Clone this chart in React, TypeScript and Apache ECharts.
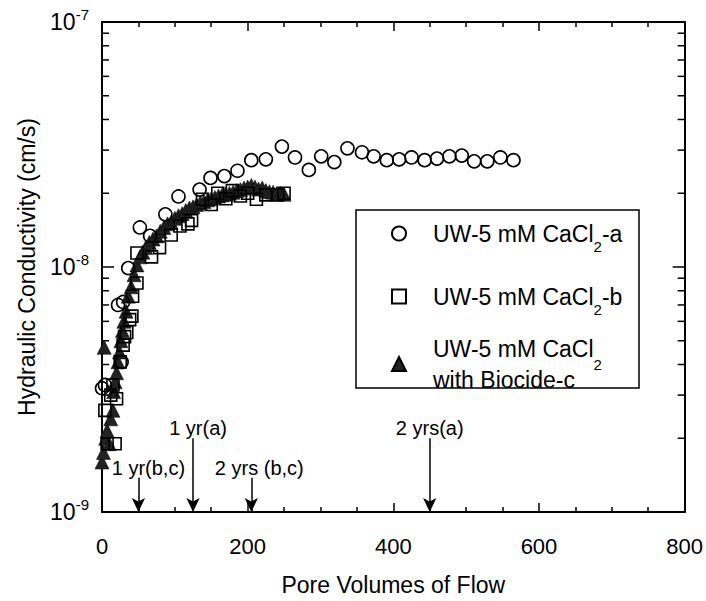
import React, { useEffect, useRef } from 'react';
import * as echarts from 'echarts';

const FONT = '"Liberation Sans", Arial, Helvetica, sans-serif';

const seriesNames = ['UW-5 mM CaCl2-a', 'UW-5 mM CaCl2-b', 'UW-5 mM CaCl2 with Biocide-c'];

// Series a (open circles): [pore volumes, hydraulic conductivity cm/s]
const seriesA: [number, number][] = [
  [0, 3.2e-9], [4, 3.3e-9], [22, 7.0e-9], [27, 4.1e-9], [29, 7.2e-9], [36, 9.9e-9],
  [52, 1.45e-8], [66, 1.34e-8], [87, 1.64e-8], [105, 1.94e-8], [134, 2.07e-8], [149, 2.31e-8],
  [168, 2.35e-8], [186, 2.47e-8], [205, 2.73e-8], [225, 2.75e-8], [247, 3.1e-8], [265, 2.8e-8],
  [284, 2.49e-8], [301, 2.83e-8], [319, 2.68e-8], [337, 3.05e-8], [357, 2.94e-8], [373, 2.83e-8],
  [391, 2.73e-8], [408, 2.75e-8], [425, 2.8e-8], [443, 2.73e-8], [460, 2.77e-8], [477, 2.83e-8],
  [494, 2.85e-8], [511, 2.7e-8], [529, 2.7e-8], [547, 2.8e-8], [565, 2.73e-8],
];

// Series b (open squares)
const seriesB: [number, number][] = [
  [4, 2.6e-9], [7, 1.9e-9], [12, 3.0e-9], [15, 3.3e-9], [18, 1.9e-9], [20, 2.9e-9],
  [25, 4.1e-9], [29, 4.8e-9], [31, 5.2e-9], [34, 5.4e-9], [38, 6.1e-9], [41, 6.3e-9],
  [42, 7.6e-9], [48, 8.6e-9], [48, 1.14e-8], [68, 1.1e-8], [79, 1.2e-8], [95, 1.35e-8],
  [107, 1.47e-8], [118, 1.5e-8], [123, 1.55e-8], [138, 1.89e-8], [150, 1.8e-8], [159, 2.0e-8],
  [170, 1.9e-8], [179, 2.05e-8], [190, 1.95e-8], [200, 2.0e-8], [212, 1.89e-8], [225, 1.97e-8],
  [241, 1.97e-8], [250, 2.0e-8],
];

// Series c (filled triangles)
const seriesC: [number, number][] = [
  [0, 1.6e-9], [2, 1.75e-9], [5, 2.0e-9], [7, 2.15e-9], [10, 1.9e-9], [12, 2.4e-9],
  [15, 2.6e-9], [16, 3.1e-9], [18, 3.4e-9], [20, 3.7e-9], [22, 4.1e-9], [24, 4.5e-9],
  [3, 4.7e-9], [26, 5.0e-9], [28, 5.5e-9], [30, 6.0e-9], [33, 6.6e-9], [36, 7.6e-9],
  [40, 8.3e-9], [44, 9.3e-9], [48, 1.02e-8], [52, 1.1e-8], [56, 1.15e-8], [60, 1.2e-8],
  [65, 1.26e-8], [70, 1.3e-8], [75, 1.34e-8], [80, 1.4e-8], [85, 1.45e-8], [90, 1.5e-8],
  [95, 1.52e-8], [100, 1.58e-8], [105, 1.62e-8], [110, 1.65e-8], [115, 1.7e-8], [120, 1.74e-8],
  [125, 1.76e-8], [130, 1.8e-8], [135, 1.83e-8], [140, 1.85e-8], [145, 1.88e-8], [150, 1.9e-8],
  [155, 1.92e-8], [160, 1.95e-8], [165, 1.97e-8], [170, 1.98e-8], [175, 2.0e-8], [180, 2.02e-8],
  [185, 2.05e-8], [190, 2.07e-8], [195, 2.1e-8], [200, 2.12e-8], [205, 2.15e-8], [210, 2.12e-8],
  [215, 2.08e-8], [220, 2.1e-8], [225, 2.05e-8], [230, 2.03e-8], [235, 2.02e-8], [240, 2.0e-8],
  [245, 2.0e-8], [250, 1.98e-8],
];

// Annotation arrows
const arrowLabels = ['1 yr(b,c)', '1 yr(a)', '2 yrs (b,c)', '2 yrs(a)'];
const arrowX = [50, 125, 205, 450];
const arrowTop = [1.38e-9, 2.0e-9, 1.38e-9, 2.0e-9];
const arrowLabelShift = [20, 10, 16, 0];

// Axis ranges / ticks
const xMin = 0;
const xMax = 800;
const xInterval = 200;
const yMin = 1e-9;
const yMax = 1e-7;
const yMinorTicks = [
  2e-9, 3e-9, 4e-9, 5e-9, 6e-9, 7e-9, 8e-9, 9e-9,
  2e-8, 3e-8, 4e-8, 5e-8, 6e-8, 7e-8, 8e-8, 9e-8,
];

const legendLabels = [
  '{t|UW-5 mM CaCl}{s|2}{t|-a}',
  '{t|UW-5 mM CaCl}{s|2}{t|-b}',
  '{u|UW-5 mM CaCl}{s2|2}\n{u|with Biocide-c}',
];
const legendTops = [213, 276, 325];

const legendRich = {
  t: { fontFamily: FONT, fontSize: 23, color: '#000', lineHeight: 30 },
  s: { fontFamily: FONT, fontSize: 15, color: '#000', lineHeight: 30, padding: [26, 0, 0, 0] },
  u: { fontFamily: FONT, fontSize: 23, color: '#000', lineHeight: 31 },
  s2: { fontFamily: FONT, fontSize: 15, color: '#000', lineHeight: 31, padding: [32, 0, 0, 0] },
};

export default function App() {
  const ref = useRef<HTMLDivElement>(null);

  useEffect(() => {
    if (!ref.current) return;
    const chart = echarts.init(ref.current, null, { renderer: 'svg' });

    const expLabel = (v: number) => {
      const e = Math.round(Math.log10(v));
      return '{b|10}{s|' + e + '}';
    };

    const legends = seriesNames.map((name, i) => ({
      data: [name],
      orient: 'vertical',
      left: 391,
      top: legendTops[i],
      itemWidth: 14,
      itemHeight: 14,
      padding: 0,
      selectedMode: false,
      formatter: () => legendLabels[i],
      textStyle: {
        fontFamily: FONT, fontSize: 23, color: '#000',
        padding: [0, 0, 0, 22],
        rich: legendRich,
      },
    }));

    const option: any = {
      animation: false,
      backgroundColor: '#fff',
      textStyle: { fontFamily: FONT, color: '#000' },
      grid: { left: 102, top: 22, right: 19, bottom: 79, containLabel: false },
      xAxis: [
        {
          type: 'value', min: xMin, max: xMax, interval: xInterval,
          name: 'Pore Volumes of Flow', nameLocation: 'middle', nameGap: 61,
          nameTextStyle: { fontFamily: FONT, fontSize: 23, color: '#000' },
          axisLine: { show: true, onZero: false, lineStyle: { color: '#000', width: 2 } },
          axisTick: { show: true, inside: true, length: 9, lineStyle: { color: '#000', width: 1.5 } },
          minorTick: { show: true, splitNumber: 4, length: 5, lineStyle: { color: '#000', width: 1.5 } },
          axisLabel: { fontFamily: FONT, fontSize: 22, color: '#000', margin: 23, lineHeight: 22 },
          splitLine: { show: false },
        },
        {
          type: 'value', min: xMin, max: xMax, interval: xInterval, position: 'top',
          axisLine: { show: true, onZero: false, lineStyle: { color: '#000', width: 2 } },
          axisTick: { show: true, inside: true, length: 9, lineStyle: { color: '#000', width: 1.5 } },
          minorTick: { show: true, splitNumber: 4, length: 5, lineStyle: { color: '#000', width: 1.5 } },
          axisLabel: { show: false },
          splitLine: { show: false },
        },
      ],
      yAxis: [
        {
          type: 'log', logBase: 10, min: yMin, max: yMax,
          name: 'Hydraulic Conductivity (cm/s)', nameLocation: 'middle', nameGap: 64,
          nameTextStyle: { fontFamily: FONT, fontSize: 23, color: '#000' },
          axisLine: { show: true, onZero: false, lineStyle: { color: '#000', width: 2 } },
          axisTick: { show: true, inside: true, length: 12, lineStyle: { color: '#000', width: 1.5 } },
          axisLabel: {
            margin: 13,
            formatter: expLabel,
            rich: {
              b: { fontFamily: FONT, fontSize: 23, color: '#000', lineHeight: 30, verticalAlign: 'middle' },
              s: { fontFamily: FONT, fontSize: 15, color: '#000', lineHeight: 14, verticalAlign: 'top' },
            },
          },
          splitLine: { show: false },
        },
        {
          type: 'log', logBase: 10, min: yMin, max: yMax, position: 'right',
          axisLine: { show: true, onZero: false, lineStyle: { color: '#000', width: 2 } },
          axisTick: { show: true, inside: true, length: 12, lineStyle: { color: '#000', width: 1.5 } },
          axisLabel: { show: false },
          splitLine: { show: false },
        },
      ],
      legend: legends,
      graphic: [
        {
          type: 'rect',
          shape: { x: 356, y: 210, width: 283, height: 178 },
          style: { fill: 'rgba(0,0,0,0)', stroke: '#000', lineWidth: 1.5 },
          silent: true,
          z: 1,
        },
      ],
      series: [
        {
          name: seriesNames[0],
          type: 'scatter',
          symbol: 'circle',
          symbolSize: 13,
          data: seriesA,
          itemStyle: { color: 'rgba(255,255,255,0)', borderColor: '#000', borderWidth: 1.6, opacity: 1 },
          z: 4,
          markLine: {
            silent: true,
            symbol: ['none', 'arrow'],
            symbolSize: [10, 14],
            lineStyle: { color: '#000', width: 1.5, type: 'solid' },
            label: { show: true, position: 'start', distance: 0, fontFamily: FONT, fontSize: 20, color: '#000' },
            emphasis: { disabled: true },
            data: arrowLabels.map((lab, i) => [
              {
                coord: [arrowX[i], arrowTop[i]],
                label: { formatter: lab, padding: [0, 0, 0, arrowLabelShift[i]] },
              },
              { coord: [arrowX[i], yMin] },
            ]),
          },
        },
        {
          name: seriesNames[2],
          type: 'scatter',
          symbol: 'triangle',
          symbolSize: 14,
          data: seriesC,
          itemStyle: { color: '#222', borderColor: '#000', borderWidth: 0.5, opacity: 1 },
          z: 3,
        },
        {
          name: seriesNames[1],
          type: 'scatter',
          symbol: 'rect',
          symbolSize: 12,
          data: seriesB,
          itemStyle: { color: 'rgba(255,255,255,0)', borderColor: '#000', borderWidth: 1.6, opacity: 1 },
          z: 4,
        },
        {
          name: 'yMinorTicks',
          type: 'custom',
          silent: true,
          clip: false,
          z: 5,
          data: yMinorTicks.map((v) => [xMin, v]),
          renderItem: (_params: any, api: any) => {
            const v = api.value(1);
            const l = api.coord([xMin, v]);
            const r = api.coord([xMax, v]);
            return {
              type: 'group',
              children: [
                { type: 'line', shape: { x1: l[0], y1: l[1], x2: l[0] + 7, y2: l[1] }, style: { stroke: '#000', lineWidth: 1.5 } },
                { type: 'line', shape: { x1: r[0] - 7, y1: r[1], x2: r[0], y2: r[1] }, style: { stroke: '#000', lineWidth: 1.5 } },
              ],
            };
          },
        },
      ],
    };

    chart.setOption(option);
    return () => chart.dispose();
  }, []);

  return (
    <div
      ref={ref}
      style={{ position: 'absolute', left: 0, top: 0, width: 706, height: 601, background: '#fff' }}
    />
  );
}
